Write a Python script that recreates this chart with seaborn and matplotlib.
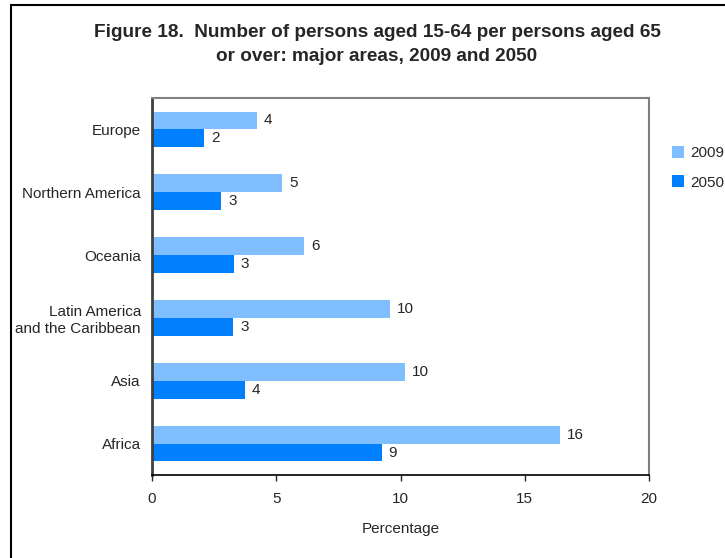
import pandas as pd
import numpy as np
import matplotlib
matplotlib.use('Agg')
import matplotlib.pyplot as plt
import seaborn as sns
from matplotlib.patches import Rectangle

# Data
areas = ['Europe', 'Northern America', 'Oceania',
         'Latin America\nand the Caribbean', 'Asia', 'Africa']
ratio_2009 = [4.23, 5.23, 6.12, 9.58, 10.18, 16.42]
ratio_2050 = [2.09, 2.78, 3.30, 3.26, 3.74, 9.24]
years = ['2009', '2050']
colors = ['#80BFFF', '#0080FF']

df = pd.DataFrame({
    'area': areas * 2,
    'year': [years[0]] * len(areas) + [years[1]] * len(areas),
    'value': ratio_2009 + ratio_2050,
})

sns.set_style('white')
plt.rcParams['font.family'] = ['Liberation Sans', 'DejaVu Sans']

fig = plt.figure(figsize=(7.25, 5.58), dpi=100)
ax = fig.add_axes([152 / 725, 1 - 475 / 558, 497 / 725, 377 / 558])

sns.barplot(data=df, y='area', x='value', hue='year', hue_order=years,
            palette=colors, orient='y', width=0.57, saturation=1,
            order=areas, ax=ax, legend=True, linewidth=0)

# Value labels
for cont in ax.containers:
    ax.bar_label(cont, fmt='%.0f', padding=5, fontsize=11)

ax.set_xlim(0, 20)
ax.set_xticks([0, 5, 10, 15, 20])
ax.set_xlabel('Percentage', fontsize=11, labelpad=12)
ax.set_ylabel('')
ax.tick_params(axis='x', labelsize=11, length=4, width=1, direction='out',
               bottom=True, pad=8)
ax.tick_params(axis='y', labelsize=11, length=0, pad=8)

for side in ['top', 'right']:
    ax.spines[side].set_color('#808080')
    ax.spines[side].set_linewidth(1.5)
ax.spines['left'].set_color('#404040')
ax.spines['left'].set_linewidth(2)
ax.spines['bottom'].set_color('black')
ax.spines['bottom'].set_linewidth(1.2)

# Legend outside, right side
ax.legend(loc='upper left', bbox_to_anchor=(672 / 725, 1 - 146 / 558),
          bbox_transform=fig.transFigure, frameon=False, fontsize=11,
          handlelength=0.8, handleheight=0.8, handletextpad=0.4,
          labelspacing=1.0, borderaxespad=0, borderpad=0)

fig.suptitle('Figure 18.  Number of persons aged 15-64 per persons aged 65\n'
             'or over: major areas, 2009 and 2050',
             x=377 / 725, y=1 - 24 / 558, va='top', fontsize=13.7,
             fontweight='bold', linespacing=1.55)

# Outer frame of the figure
fig.patches.append(Rectangle((11 / 725, -0.1), 1.0, 1 - 5 / 558 + 0.1,
                             transform=fig.transFigure, fill=False,
                             edgecolor='black', linewidth=1.5))

fig.savefig('out.png', dpi=100)
